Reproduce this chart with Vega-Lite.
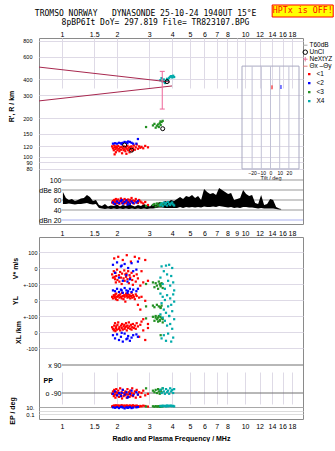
{
  "$schema": "https://vega.github.io/schema/vega-lite/v6.json",
  "padding": {"left": 7, "top": 3, "right": 0, "bottom": 0},
  "autosize": {"type": "pad"},
  "background": "white",
  "spacing": 13,
  "bounds": "flush",
  "datasets": {
    "echoes": [
      {"c":"<1","f":1.88,"h":120,"db":55,"v":-40,"yl":20,"xl":30,"pp":-95,"ep":15},
      {"c":"<1","f":1.90,"h":116,"db":58,"v":-60,"yl":10,"xl":20,"pp":-80,"ep":20},
      {"c":"<1","f":1.92,"h":112,"db":52,"v":-20,"yl":30,"xl":10,"pp":-110,"ep":12},
      {"c":"<1","f":1.93,"h":122,"db":60,"v":60,"yl":25,"xl":40,"pp":-70,"ep":25},
      {"c":"<1","f":1.95,"h":118,"db":56,"v":-70,"yl":15,"xl":55,"pp":-100,"ep":18},
      {"c":"<1","f":1.96,"h":114,"db":53,"v":-30,"yl":35,"xl":5,"pp":-120,"ep":10},
      {"c":"<1","f":1.97,"h":108,"db":62,"v":-90,"yl":5,"xl":25,"pp":-85,"ep":30},
      {"c":"<1","f":1.98,"h":120,"db":57,"v":-50,"yl":40,"xl":35,"pp":-65,"ep":14},
      {"c":"<1","f":2.00,"h":117,"db":54,"v":-10,"yl":20,"xl":15,"pp":-105,"ep":22},
      {"c":"<1","f":2.01,"h":112,"db":59,"v":-75,"yl":0,"xl":45,"pp":-90,"ep":16},
      {"c":"<1","f":2.03,"h":121,"db":61,"v":70,"yl":25,"xl":60,"pp":-75,"ep":28},
      {"c":"<1","f":2.05,"h":115,"db":55,"v":-45,"yl":30,"xl":20,"pp":-115,"ep":12},
      {"c":"<1","f":2.06,"h":110,"db":52,"v":-85,"yl":15,"xl":30,"pp":-95,"ep":19},
      {"c":"<1","f":2.08,"h":118,"db":58,"v":-25,"yl":35,"xl":10,"pp":-60,"ep":24},
      {"c":"<1","f":2.10,"h":113,"db":63,"v":-60,"yl":20,"xl":40,"pp":-100,"ep":11},
      {"c":"<1","f":2.12,"h":119,"db":56,"v":-100,"yl":10,"xl":25,"pp":-85,"ep":33},
      {"c":"<1","f":2.13,"h":106,"db":54,"v":-35,"yl":45,"xl":50,"pp":-125,"ep":15},
      {"c":"<1","f":2.15,"h":116,"db":60,"v":50,"yl":25,"xl":15,"pp":-70,"ep":20},
      {"c":"<1","f":2.17,"h":112,"db":57,"v":-65,"yl":5,"xl":35,"pp":-110,"ep":13},
      {"c":"<1","f":2.19,"h":120,"db":53,"v":-15,"yl":30,"xl":45,"pp":-90,"ep":26},
      {"c":"<1","f":2.20,"h":114,"db":62,"v":-80,"yl":20,"xl":20,"pp":-105,"ep":17},
      {"c":"<1","f":2.22,"h":110,"db":55,"v":-40,"yl":-10,"xl":30,"pp":-80,"ep":21},
      {"c":"<1","f":2.24,"h":118,"db":59,"v":-55,"yl":40,"xl":55,"pp":-95,"ep":14},
      {"c":"<1","f":2.26,"h":115,"db":54,"v":80,"yl":25,"xl":10,"pp":-120,"ep":29},
      {"c":"<1","f":2.28,"h":121,"db":58,"v":-70,"yl":15,"xl":40,"pp":-65,"ep":18},
      {"c":"<1","f":2.30,"h":112,"db":61,"v":-20,"yl":35,"xl":25,"pp":-100,"ep":12},
      {"c":"<1","f":2.32,"h":117,"db":56,"v":-95,"yl":20,"xl":60,"pp":-85,"ep":23},
      {"c":"<1","f":2.34,"h":108,"db":52,"v":-45,"yl":30,"xl":35,"pp":-115,"ep":16},
      {"c":"<1","f":2.36,"h":119,"db":60,"v":-60,"yl":10,"xl":20,"pp":-75,"ep":27},
      {"c":"<1","f":2.38,"h":114,"db":57,"v":40,"yl":25,"xl":45,"pp":-105,"ep":13},
      {"c":"<1","f":2.40,"h":120,"db":64,"v":-30,"yl":45,"xl":15,"pp":-90,"ep":20},
      {"c":"<1","f":2.42,"h":111,"db":55,"v":-75,"yl":15,"xl":30,"pp":-60,"ep":15},
      {"c":"<1","f":2.44,"h":116,"db":59,"v":-105,"yl":30,"xl":50,"pp":-110,"ep":31},
      {"c":"<1","f":2.47,"h":122,"db":53,"v":-50,"yl":20,"xl":25,"pp":-95,"ep":18},
      {"c":"<1","f":2.50,"h":113,"db":58,"v":70,"yl":5,"xl":40,"pp":-80,"ep":22},
      {"c":"<1","f":2.53,"h":118,"db":62,"v":-85,"yl":35,"xl":20,"pp":-120,"ep":14},
      {"c":"<1","f":2.56,"h":124,"db":56,"v":-40,"yl":25,"xl":55,"pp":-70,"ep":26},
      {"c":"<1","f":2.60,"h":115,"db":54,"v":-65,"yl":-30,"xl":35,"pp":-100,"ep":17},
      {"c":"<1","f":2.64,"h":120,"db":60,"v":60,"yl":15,"xl":-30,"pp":-85,"ep":12},
      {"c":"<1","f":2.68,"h":117,"db":57,"v":-110,"yl":-60,"xl":45,"pp":-115,"ep":20},
      {"c":"<1","f":2.72,"h":119,"db":55,"v":-20,"yl":20,"xl":65,"pp":-90,"ep":16},
      {"c":"<1","f":2.78,"h":116,"db":53,"v":-90,"yl":-120,"xl":10,"pp":-75,"ep":24},
      {"c":"<1","f":2.85,"h":121,"db":56,"v":50,"yl":-5,"xl":-50,"pp":-105,"ep":19},
      {"c":"<1","f":2.95,"h":118,"db":50,"v":-80,"yl":-150,"xl":25,"pp":-95,"ep":13},
      {"c":"<1","f":1.94,"h":104,"db":57,"v":-55,"yl":25,"xl":15,"pp":-85,"ep":21},
      {"c":"<1","f":2.25,"h":105,"db":60,"v":-35,"yl":30,"xl":35,"pp":-100,"ep":17},
      {"c":"<2","f":1.90,"h":126,"db":55,"v":20,"yl":60,"xl":-20,"pp":-95,"ep":8},
      {"c":"<2","f":1.95,"h":127,"db":52,"v":-30,"yl":55,"xl":-40,"pp":-80,"ep":6},
      {"c":"<2","f":2.00,"h":126,"db":57,"v":35,"yl":70,"xl":-15,"pp":-105,"ep":9},
      {"c":"<2","f":2.05,"h":128,"db":54,"v":-60,"yl":50,"xl":-50,"pp":-90,"ep":5},
      {"c":"<2","f":2.10,"h":127,"db":58,"v":10,"yl":65,"xl":-30,"pp":-110,"ep":10},
      {"c":"<2","f":2.15,"h":128,"db":53,"v":-80,"yl":45,"xl":-60,"pp":-70,"ep":7},
      {"c":"<2","f":2.20,"h":130,"db":56,"v":25,"yl":75,"xl":-10,"pp":-100,"ep":4},
      {"c":"<2","f":2.25,"h":129,"db":59,"v":-45,"yl":60,"xl":-45,"pp":-85,"ep":8},
      {"c":"<2","f":2.30,"h":131,"db":55,"v":0,"yl":55,"xl":-25,"pp":-115,"ep":6},
      {"c":"<2","f":2.35,"h":130,"db":52,"v":-70,"yl":70,"xl":-55,"pp":-95,"ep":9},
      {"c":"<2","f":2.40,"h":128,"db":57,"v":30,"yl":50,"xl":-35,"pp":-75,"ep":5},
      {"c":"<2","f":2.45,"h":126,"db":54,"v":-20,"yl":65,"xl":-20,"pp":-105,"ep":7},
      {"c":"<2","f":2.12,"h":125,"db":60,"v":15,"yl":60,"xl":-5,"pp":-90,"ep":11},
      {"c":"<2","f":2.28,"h":127,"db":51,"v":-85,"yl":45,"xl":-40,"pp":-120,"ep":6},
      {"c":"<2","f":2.55,"h":126,"db":55,"v":-10,"yl":55,"xl":-15,"pp":-85,"ep":8},
      {"c":"<2","f":2.60,"h":137,"db":58,"v":40,"yl":70,"xl":-30,"pp":-100,"ep":10},
      {"c":"<3","f":2.88,"h":170,"db":48,"v":-100,"yl":-40,"xl":85,"pp":-60,"ep":14},
      {"c":"<3","f":3.14,"h":175,"db":50,"v":-90,"yl":-35,"xl":95,"pp":-75,"ep":16},
      {"c":"<3","f":3.20,"h":180,"db":52,"v":-120,"yl":-45,"xl":70,"pp":-85,"ep":12},
      {"c":"<3","f":3.25,"h":168,"db":47,"v":-95,"yl":-100,"xl":90,"pp":-70,"ep":18},
      {"c":"<3","f":3.30,"h":174,"db":53,"v":-110,"yl":-30,"xl":80,"pp":-90,"ep":13},
      {"c":"<3","f":3.35,"h":178,"db":49,"v":-130,"yl":-110,"xl":65,"pp":-65,"ep":15},
      {"c":"<3","f":3.38,"h":170,"db":51,"v":-85,"yl":-40,"xl":100,"pp":-80,"ep":17},
      {"c":"<3","f":3.42,"h":182,"db":48,"v":-100,"yl":-130,"xl":75,"pp":-95,"ep":12},
      {"c":"<3","f":3.46,"h":176,"db":54,"v":-115,"yl":-50,"xl":-20,"pp":-70,"ep":19},
      {"c":"<3","f":3.50,"h":186,"db":50,"v":-95,"yl":-35,"xl":85,"pp":-85,"ep":14},
      {"c":"<3","f":3.55,"h":190,"db":52,"v":-125,"yl":-120,"xl":60,"pp":-60,"ep":16},
      {"c":"<3","f":3.45,"h":188,"db":49,"v":-105,"yl":-45,"xl":95,"pp":-75,"ep":13},
      {"c":"X4","f":3.45,"h":395,"db":50,"v":-60,"yl":40,"xl":110,"pp":-70,"ep":20},
      {"c":"X4","f":3.50,"h":410,"db":53,"v":10,"yl":-20,"xl":-40,"pp":-90,"ep":15},
      {"c":"X4","f":3.55,"h":385,"db":48,"v":-100,"yl":20,"xl":90,"pp":-60,"ep":25},
      {"c":"X4","f":3.60,"h":400,"db":55,"v":-20,"yl":-60,"xl":-20,"pp":-80,"ep":18},
      {"c":"X4","f":3.65,"h":375,"db":51,"v":-130,"yl":0,"xl":70,"pp":-95,"ep":22},
      {"c":"X4","f":3.70,"h":390,"db":54,"v":15,"yl":-80,"xl":-55,"pp":-65,"ep":14},
      {"c":"X4","f":3.75,"h":405,"db":49,"v":-40,"yl":30,"xl":40,"pp":-85,"ep":28},
      {"c":"X4","f":3.80,"h":395,"db":56,"v":-80,"yl":-40,"xl":-10,"pp":-75,"ep":16},
      {"c":"X4","f":3.85,"h":412,"db":52,"v":20,"yl":-100,"xl":100,"pp":-95,"ep":24},
      {"c":"X4","f":3.90,"h":420,"db":50,"v":-110,"yl":10,"xl":50,"pp":-60,"ep":19},
      {"c":"X4","f":3.95,"h":425,"db":53,"v":-50,"yl":-30,"xl":-60,"pp":-80,"ep":26},
      {"c":"X4","f":4.00,"h":415,"db":55,"v":0,"yl":-70,"xl":20,"pp":-70,"ep":17},
      {"c":"X4","f":4.05,"h":428,"db":51,"v":-90,"yl":35,"xl":-35,"pp":-90,"ep":21},
      {"c":"X4","f":4.10,"h":418,"db":49,"v":-140,"yl":-10,"xl":80,"pp":-65,"ep":15}
    ],
    "noise": [
      {"f":1.013,"top":76,"bot":52},{"f":1.052,"top":64,"bot":52},{"f":1.092,"top":60,"bot":53},
      {"f":1.134,"top":62,"bot":52},{"f":1.178,"top":58,"bot":51},{"f":1.223,"top":60,"bot":52},
      {"f":1.270,"top":63,"bot":52},{"f":1.319,"top":64,"bot":53},{"f":1.370,"top":70,"bot":54},
      {"f":1.422,"top":66,"bot":52},{"f":1.477,"top":58,"bot":51},{"f":1.534,"top":60,"bot":52},
      {"f":1.593,"top":50,"bot":44},{"f":1.654,"top":48,"bot":43},{"f":1.718,"top":52,"bot":42},
      {"f":1.784,"top":47,"bot":43},{"f":1.853,"top":49,"bot":42},{"f":1.924,"top":48,"bot":43},
      {"f":1.998,"top":51,"bot":42},{"f":2.075,"top":47,"bot":43},{"f":2.154,"top":50,"bot":42},
      {"f":2.237,"top":48,"bot":43},{"f":2.323,"top":52,"bot":42},{"f":2.413,"top":49,"bot":43},
      {"f":2.506,"top":47,"bot":42},{"f":2.602,"top":50,"bot":43},{"f":2.702,"top":48,"bot":42},
      {"f":2.806,"top":52,"bot":43},{"f":2.914,"top":49,"bot":42},{"f":3.027,"top":47,"bot":43},
      {"f":3.143,"top":53,"bot":43},{"f":3.264,"top":50,"bot":44},{"f":3.389,"top":56,"bot":45},
      {"f":3.520,"top":54,"bot":45},{"f":3.655,"top":58,"bot":44},{"f":3.796,"top":56,"bot":44},
      {"f":3.942,"top":60,"bot":44},{"f":4.094,"top":58,"bot":44},{"f":4.251,"top":62,"bot":44},
      {"f":4.415,"top":66,"bot":46},{"f":4.585,"top":62,"bot":44},{"f":4.761,"top":68,"bot":46},
      {"f":4.944,"top":66,"bot":45},{"f":5.134,"top":70,"bot":46},{"f":5.332,"top":64,"bot":45},
      {"f":5.537,"top":68,"bot":46},{"f":5.750,"top":60,"bot":45},{"f":5.971,"top":82,"bot":47},
      {"f":6.201,"top":76,"bot":46},{"f":6.439,"top":72,"bot":46},{"f":6.687,"top":74,"bot":47},
      {"f":6.944,"top":70,"bot":46},{"f":7.211,"top":84,"bot":48},{"f":7.489,"top":80,"bot":47},
      {"f":7.777,"top":76,"bot":46},{"f":8.076,"top":72,"bot":45},{"f":8.386,"top":74,"bot":46},
      {"f":8.709,"top":60,"bot":44},{"f":9.044,"top":62,"bot":45},{"f":9.392,"top":64,"bot":44},
      {"f":9.751,"top":80,"bot":46},{"f":10.13,"top":72,"bot":46},{"f":10.52,"top":68,"bot":45},
      {"f":10.92,"top":70,"bot":45},{"f":11.34,"top":54,"bot":44},{"f":11.78,"top":52,"bot":43},
      {"f":12.23,"top":70,"bot":44},{"f":12.70,"top":50,"bot":43},{"f":13.19,"top":52,"bot":43},
      {"f":13.70,"top":62,"bot":43},{"f":14.22,"top":60,"bot":43},{"f":14.77,"top":46,"bot":42},
      {"f":15.34,"top":43,"bot":41},{"f":15.73,"top":42,"bot":41}
    ],
    "nexyz": [
      {"id":"a","f":0.75,"h":500},{"id":"a","f":3.89,"h":382},
      {"id":"b","f":0.75,"h":272},{"id":"b","f":3.99,"h":356}
    ],
    "uncl": [
      {"s":"UnCl","f":2.2,"h":123},{"s":"UnCl","f":2.4,"h":112},
      {"s":"UnCl","f":3.55,"h":165},{"s":"UnCl","f":3.75,"h":385}
    ],
    "errbar": [{"f":3.53,"lo":235,"hi":463}],
    "dbgrid": [{"g":100},{"g":80},{"g":60},{"g":40},{"g":20}],
    "ppgrid": [{"g":90},{"g":-90}],
    "tilts": [{"t":-20},{"t":-10},{"t":0},{"t":10},{"t":20}],
    "tiltobs": [{"c":"<1","t":1.6,"a":360,"b":335},{"c":"<2","t":11.4,"a":362,"b":337}],
    "one": [{"k":1}]
  },
  "vconcat": [
    {
      "width": 264,
      "height": 186,
      "resolve": {"scale": {"x": "independent", "y": "independent"}, "axis": {"x": "independent", "y": "independent"}},
      "layer": [
        {
          "data": {"name": "echoes"},
          "mark": {"type": "point", "shape": "square", "filled": true, "size": 5, "opacity": 1, "strokeWidth": 0},
          "encoding": {
            "x": {"field": "f", "type": "quantitative", "scale": {"type": "log", "domain": [0.75, 20.7], "nice": false},
                  "axis": {"orient": "top", "values": [1,1.5,2,3,4,5,6,7,8,10,12,14,16,18], "labelExpr": "'' + datum.value", "grid": false, "labelPadding": 1, "labelFontSize": 7, "title": null}},
            "y": {"field": "h", "type": "quantitative", "scale": {"type": "log", "domain": [73, 844], "range": [136, 0], "nice": false},
                  "axis": {"orient": "left", "values": [800,600,400,300,200,150,120,100,90,80], "labelExpr": "'' + datum.value", "grid": true, "labelPadding": 7, "labelFontSize": 5.5, "title": "R', R / km", "titleFontSize": 7, "titleFontWeight": "bold", "titlePadding": 8}},
            "color": {"field": "c", "type": "nominal", "scale": {"domain": ["<1","<2","<3","X4"], "range": ["#ff0000","#0000ff","#239023","#00aaaa"]},
                      "legend": {"orient": "none", "legendX": 267, "legendY": 32, "title": null, "symbolType": "square", "symbolSize": 6, "labelFontSize": 6.5, "labelOffset": 4, "rowPadding": 0, "clipHeight": 8.3, "padding": 0, "symbolStrokeWidth": 0, "symbolOpacity": 1}}
          }
        },
        {
          "data": {"name": "dbgrid"},
          "mark": {"type": "rule", "strokeWidth": 1},
          "encoding": {
            "x": {"datum": 1, "type": "quantitative", "scale": {"type": "log", "domain": [0.75, 20.7], "nice": false}, "axis": null},
            "x2": {"datum": 20.7},
            "y": {"field": "g", "type": "quantitative", "scale": {"domain": [12, 112], "range": [186, 136], "nice": false, "zero": false}, "axis": null},
            "color": {"condition": {"test": "datum.g == 20", "value": "#aab0ee"}, "value": "#999999"}
          }
        },
        {
          "data": {"name": "noise"},
          "mark": {"type": "area", "color": "#000000", "opacity": 1},
          "encoding": {
            "x": {"field": "f", "type": "quantitative", "scale": {"type": "log", "domain": [0.75, 20.7], "nice": false},
                  "axis": {"orient": "bottom", "values": [1,1.5,2,3,4,5,6,7,8,9,10,12,14,16,18], "labelExpr": "'' + datum.value", "grid": true, "labelPadding": 5, "labelFontSize": 7, "title": null}},
            "y": {"field": "top", "type": "quantitative", "scale": {"domain": [12, 112], "range": [186, 136], "nice": false, "zero": false},
                  "axis": {"orient": "left", "offset": -23, "values": [100,80,60,40,20], "labelExpr": "datum.value == 80 ? 'dBe 80' : datum.value == 20 ? 'dBn 20' : '' + datum.value", "grid": false, "labelPadding": 1, "labelFontSize": 7, "title": null}},
            "y2": {"field": "bot"}
          }
        },
        {
          "data": {"name": "echoes"},
          "mark": {"type": "point", "shape": "square", "filled": true, "size": 5, "opacity": 1, "strokeWidth": 0},
          "encoding": {
            "x": {"field": "f", "type": "quantitative", "scale": {"type": "log", "domain": [0.75, 20.7], "nice": false}, "axis": null},
            "y": {"field": "db", "type": "quantitative", "scale": {"domain": [12, 112], "range": [186, 136], "nice": false, "zero": false}, "axis": null},
            "color": {"field": "c", "type": "nominal"}
          }
        },
        {
          "data": {"name": "nexyz"},
          "mark": {"type": "line", "color": "#a8284f", "strokeWidth": 1},
          "encoding": {
            "x": {"field": "f", "type": "quantitative", "scale": {"type": "log", "domain": [0.75, 20.7], "nice": false}, "axis": null},
            "y": {"field": "h", "type": "quantitative", "scale": {"type": "log", "domain": [73, 844], "range": [136, 0], "nice": false}, "axis": null},
            "detail": {"field": "id"}
          }
        },
        {
          "data": {"name": "errbar"},
          "mark": {"type": "rule", "color": "#ee6699", "strokeWidth": 1},
          "encoding": {
            "x": {"field": "f", "type": "quantitative", "scale": {"type": "log", "domain": [0.75, 20.7], "nice": false}, "axis": null},
            "y": {"field": "lo", "type": "quantitative", "scale": {"type": "log", "domain": [73, 844], "range": [136, 0], "nice": false}, "axis": null},
            "y2": {"field": "hi"}
          }
        },
        {
          "data": {"name": "errbar"},
          "mark": {"type": "tick", "orient": "horizontal", "color": "#ee6699", "size": 5, "thickness": 1, "opacity": 1},
          "encoding": {
            "x": {"field": "f", "type": "quantitative", "scale": {"type": "log", "domain": [0.75, 20.7], "nice": false}, "axis": null},
            "y": {"field": "lo", "type": "quantitative", "scale": {"type": "log", "domain": [73, 844], "range": [136, 0], "nice": false}, "axis": null}
          }
        },
        {
          "data": {"name": "errbar"},
          "mark": {"type": "tick", "orient": "horizontal", "color": "#ee6699", "size": 5, "thickness": 1, "opacity": 1},
          "encoding": {
            "x": {"field": "f", "type": "quantitative", "scale": {"type": "log", "domain": [0.75, 20.7], "nice": false}, "axis": null},
            "y": {"field": "hi", "type": "quantitative", "scale": {"type": "log", "domain": [73, 844], "range": [136, 0], "nice": false}, "axis": null}
          }
        },
        {
          "data": {"name": "uncl"},
          "mark": {"type": "point", "filled": false, "size": 16, "strokeWidth": 1, "opacity": 1},
          "encoding": {
            "x": {"field": "f", "type": "quantitative", "scale": {"type": "log", "domain": [0.75, 20.7], "nice": false}, "axis": null},
            "y": {"field": "h", "type": "quantitative", "scale": {"type": "log", "domain": [73, 844], "range": [136, 0], "nice": false}, "axis": null},
            "shape": {"field": "s", "type": "nominal", "scale": {"domain": ["T60dB","UnCl","NeXtYZ","Θx –Θy"], "range": ["stroke","circle","M-1,0H1M0,-1V1","stroke"]},
                      "legend": {"orient": "none", "legendX": 263, "legendY": 4, "title": null, "symbolSize": 20, "labelFontSize": 6.5, "labelOffset": 1, "rowPadding": 0, "clipHeight": 6.4, "padding": 0, "symbolStrokeWidth": 1}},
            "stroke": {"field": "s", "type": "nominal", "scale": {"domain": ["T60dB","UnCl","NeXtYZ","Θx –Θy"], "range": ["#aaaaaa","#000000","#e8709a","#e07a7a"]},
                       "legend": {"orient": "none", "legendX": 263, "legendY": 4, "title": null, "symbolSize": 20, "labelFontSize": 6.5, "labelOffset": 1, "rowPadding": 0, "clipHeight": 6.4, "padding": 0, "symbolStrokeWidth": 1}}
          }
        },
        {
          "data": {"name": "one"},
          "mark": {"type": "rect", "fill": "transparent", "stroke": "#a9a9c2", "strokeWidth": 1},
          "encoding": {
            "x": {"datum": -31, "type": "quantitative", "scale": {"domain": [-31, 31], "range": [203, 260], "nice": false, "zero": false}, "axis": null},
            "x2": {"datum": 31},
            "y": {"datum": 80, "type": "quantitative", "scale": {"type": "log", "domain": [73, 844], "range": [136, 0], "nice": false}, "axis": null},
            "y2": {"datum": 509}
          }
        },
        {
          "data": {"name": "tilts"},
          "mark": {"type": "rule", "color": "#c2c2d6", "strokeWidth": 1},
          "encoding": {
            "x": {"field": "t", "type": "quantitative", "scale": {"domain": [-31, 31], "range": [203, 260], "nice": false, "zero": false},
                  "axis": {"orient": "bottom", "offset": -55, "values": [-20,-10,0,10,20], "grid": false, "labelPadding": 1, "labelFontSize": 5, "title": "Tilt / deg", "titleFontSize": 5.5, "titleFontWeight": "normal", "titlePadding": 0}},
            "y": {"datum": 80, "type": "quantitative", "scale": {"type": "log", "domain": [73, 844], "range": [136, 0], "nice": false}, "axis": null},
            "y2": {"datum": 509}
          }
        },
        {
          "data": {"name": "tiltobs"},
          "mark": {"type": "rule", "strokeWidth": 1},
          "encoding": {
            "x": {"field": "t", "type": "quantitative", "scale": {"domain": [-31, 31], "range": [203, 260], "nice": false, "zero": false}, "axis": null},
            "y": {"field": "a", "type": "quantitative", "scale": {"type": "log", "domain": [73, 844], "range": [136, 0], "nice": false}, "axis": null},
            "y2": {"field": "b"},
            "color": {"field": "c", "type": "nominal"}
          }
        },
        {
          "data": {"name": "one"},
          "mark": {"type": "rect", "fill": "#ffff00", "stroke": "#ff0000", "strokeWidth": 1},
          "encoding": {
            "x": {"datum": 14.05, "type": "quantitative", "scale": {"type": "log", "domain": [0.75, 20.7], "nice": false}, "axis": null},
            "x2": {"datum": 30.26},
            "y": {"datum": 1529, "type": "quantitative", "scale": {"type": "log", "domain": [73, 844], "range": [136, 0], "nice": false}, "axis": null},
            "y2": {"datum": 1231}
          }
        },
        {
          "data": {"values": [{"t": "HPTx is OFF!"}]},
          "mark": {"type": "text", "font": "DejaVu Sans Mono", "fontSize": 8.3, "color": "#ff0000", "align": "center", "baseline": "alphabetic"},
          "encoding": {
            "x": {"datum": 20.62, "type": "quantitative", "scale": {"type": "log", "domain": [0.75, 20.7], "nice": false}, "axis": null},
            "y": {"datum": 1335, "type": "quantitative", "scale": {"type": "log", "domain": [73, 844], "range": [136, 0], "nice": false}, "axis": null},
            "text": {"field": "t"}
          }
        },
        {
          "data": {"values": [{"t": "TROMSO NORWAY\u00a0\u00a0\u00a0DYNASONDE 25-10-24 1940UT 15°E"}]},
          "mark": {"type": "text", "font": "DejaVu Sans Mono", "fontSize": 8, "color": "#000000", "align": "left", "baseline": "alphabetic"},
          "encoding": {
            "x": {"datum": 0.712, "type": "quantitative", "scale": {"type": "log", "domain": [0.75, 20.7], "nice": false}, "axis": null},
            "y": {"datum": 1247, "type": "quantitative", "scale": {"type": "log", "domain": [73, 844], "range": [136, 0], "nice": false}, "axis": null},
            "text": {"field": "t"}
          }
        },
        {
          "data": {"values": [{"t": "8pBP6It DoY= 297.819 File= TR823107.BPG"}]},
          "mark": {"type": "text", "font": "DejaVu Sans Mono", "fontSize": 8, "color": "#000000", "align": "left", "baseline": "alphabetic"},
          "encoding": {
            "x": {"datum": 0.996, "type": "quantitative", "scale": {"type": "log", "domain": [0.75, 20.7], "nice": false}, "axis": null},
            "y": {"datum": 1072, "type": "quantitative", "scale": {"type": "log", "domain": [73, 844], "range": [136, 0], "nice": false}, "axis": null},
            "text": {"field": "t"}
          }
        }
      ]
    },
    {
      "width": 264,
      "height": 182,
      "resolve": {"scale": {"x": "independent", "y": "independent"}, "axis": {"x": "independent", "y": "independent"}},
      "layer": [
        {
          "data": {"name": "echoes"},
          "mark": {"type": "point", "shape": "square", "filled": true, "size": 5, "opacity": 1, "strokeWidth": 0},
          "encoding": {
            "x": {"field": "f", "type": "quantitative", "scale": {"type": "log", "domain": [0.75, 20.7], "nice": false},
                  "axis": {"orient": "bottom", "values": [1,1.5,2,3,4,5,6,7,8,10,12,14,16,18], "labelExpr": "'' + datum.value", "grid": true, "labelPadding": 3, "labelFontSize": 7, "title": "Radio and Plasma Frequency / MHz", "titleFontSize": 7, "titleFontWeight": "bold", "titlePadding": 5}},
            "y": {"field": "v", "type": "quantitative", "scale": {"domain": [-100, 100], "range": [47, 15], "nice": false, "zero": false},
                  "axis": {"orient": "left", "values": [100, 0, -100], "labelExpr": "datum.value == -100 ? '+-100' : '' + datum.value", "grid": true, "labelPadding": 2, "labelFontSize": 5.5, "title": "V* m/s", "titleFontSize": 7, "titleFontWeight": "bold", "titlePadding": 4}},
            "color": {"field": "c", "type": "nominal"}
          }
        },
        {
          "data": {"name": "echoes"},
          "mark": {"type": "point", "shape": "square", "filled": true, "size": 5, "opacity": 1, "strokeWidth": 0},
          "encoding": {
            "x": {"field": "f", "type": "quantitative", "scale": {"type": "log", "domain": [0.75, 20.7], "nice": false}, "axis": null},
            "y": {"field": "yl", "type": "quantitative", "scale": {"domain": [-100, 100], "range": [79, 47], "nice": false, "zero": false},
                  "axis": {"orient": "left", "values": [0, -100], "labelExpr": "datum.value == -100 ? '+-100' : '' + datum.value", "grid": true, "labelPadding": 2, "labelFontSize": 5.5, "title": "YL", "titleFontSize": 7, "titleFontWeight": "bold", "titlePadding": 4}},
            "color": {"field": "c", "type": "nominal"}
          }
        },
        {
          "data": {"name": "echoes"},
          "mark": {"type": "point", "shape": "square", "filled": true, "size": 5, "opacity": 1, "strokeWidth": 0},
          "encoding": {
            "x": {"field": "f", "type": "quantitative", "scale": {"type": "log", "domain": [0.75, 20.7], "nice": false}, "axis": null},
            "y": {"field": "xl", "type": "quantitative", "scale": {"domain": [-100, 100], "range": [111, 79], "nice": false, "zero": false},
                  "axis": {"orient": "left", "values": [0, -100], "labelExpr": "'' + datum.value", "grid": true, "labelPadding": 2, "labelFontSize": 5.5, "title": "XL   /km", "titleFontSize": 7, "titleFontWeight": "bold", "titlePadding": 4}},
            "color": {"field": "c", "type": "nominal"}
          }
        },
        {
          "data": {"name": "ppgrid"},
          "mark": {"type": "rule", "color": "#707070", "strokeWidth": 1},
          "encoding": {
            "x": {"datum": 1, "type": "quantitative", "scale": {"type": "log", "domain": [0.75, 20.7], "nice": false}, "axis": null},
            "x2": {"datum": 20.7},
            "y": {"field": "g", "type": "quantitative", "scale": {"domain": [-90, 90], "range": [156, 128], "nice": false, "zero": false},
                  "axis": {"orient": "left", "offset": -23, "values": [90, -90], "labelExpr": "datum.value > 0 ? 'x 90' : 'o -90'", "grid": false, "labelPadding": 1, "labelFontSize": 7, "title": "PP", "titleAngle": 0, "titleAlign": "left", "titleBaseline": "middle", "titleX": -19, "titleY": 143, "titleFontSize": 7, "titleFontWeight": "bold"}}
          }
        },
        {
          "data": {"name": "echoes"},
          "mark": {"type": "point", "shape": "square", "filled": true, "size": 5, "opacity": 1, "strokeWidth": 0},
          "encoding": {
            "x": {"field": "f", "type": "quantitative", "scale": {"type": "log", "domain": [0.75, 20.7], "nice": false}, "axis": null},
            "y": {"field": "pp", "type": "quantitative", "scale": {"domain": [-90, 90], "range": [156, 128], "nice": false, "zero": false}, "axis": null},
            "color": {"field": "c", "type": "nominal"}
          }
        },
        {
          "data": {"name": "echoes"},
          "mark": {"type": "point", "shape": "square", "filled": true, "size": 5, "opacity": 1, "strokeWidth": 0},
          "encoding": {
            "x": {"field": "f", "type": "quantitative", "scale": {"type": "log", "domain": [0.75, 20.7], "nice": false}, "axis": null},
            "y": {"field": "ep", "type": "quantitative", "scale": {"type": "log", "domain": [0.1, 10], "range": [177, 170], "nice": false},
                  "axis": {"orient": "left", "values": [10, 1, 0.1], "labelExpr": "datum.value == 10 ? '10.' : datum.value == 1 ? '' : '0.1'", "grid": true, "gridColor": {"condition": {"test": "datum.value == 10", "value": "#a8a8a8"}, "value": "#dcdcdc"}, "labelPadding": 5, "labelFontSize": 6, "title": "EP / deg", "titleFontSize": 7, "titleFontWeight": "bold", "titlePadding": 10}},
            "color": {"field": "c", "type": "nominal"}
          }
        }
      ]
    }
  ],
  "config": {
    "font": "Liberation Sans",
    "view": {"stroke": "#8a8a8a", "strokeWidth": 1},
    "axis": {"domain": false, "ticks": false, "labelColor": "#000000", "titleColor": "#000000", "gridColor": "#dedae6", "gridWidth": 1, "labelFont": "Liberation Sans", "titleFont": "Liberation Sans", "labelOverlap": false, "labelFlush": false, "labelBound": false},
    "legend": {"labelFont": "Liberation Sans", "labelColor": "#000000"}
  }
}
